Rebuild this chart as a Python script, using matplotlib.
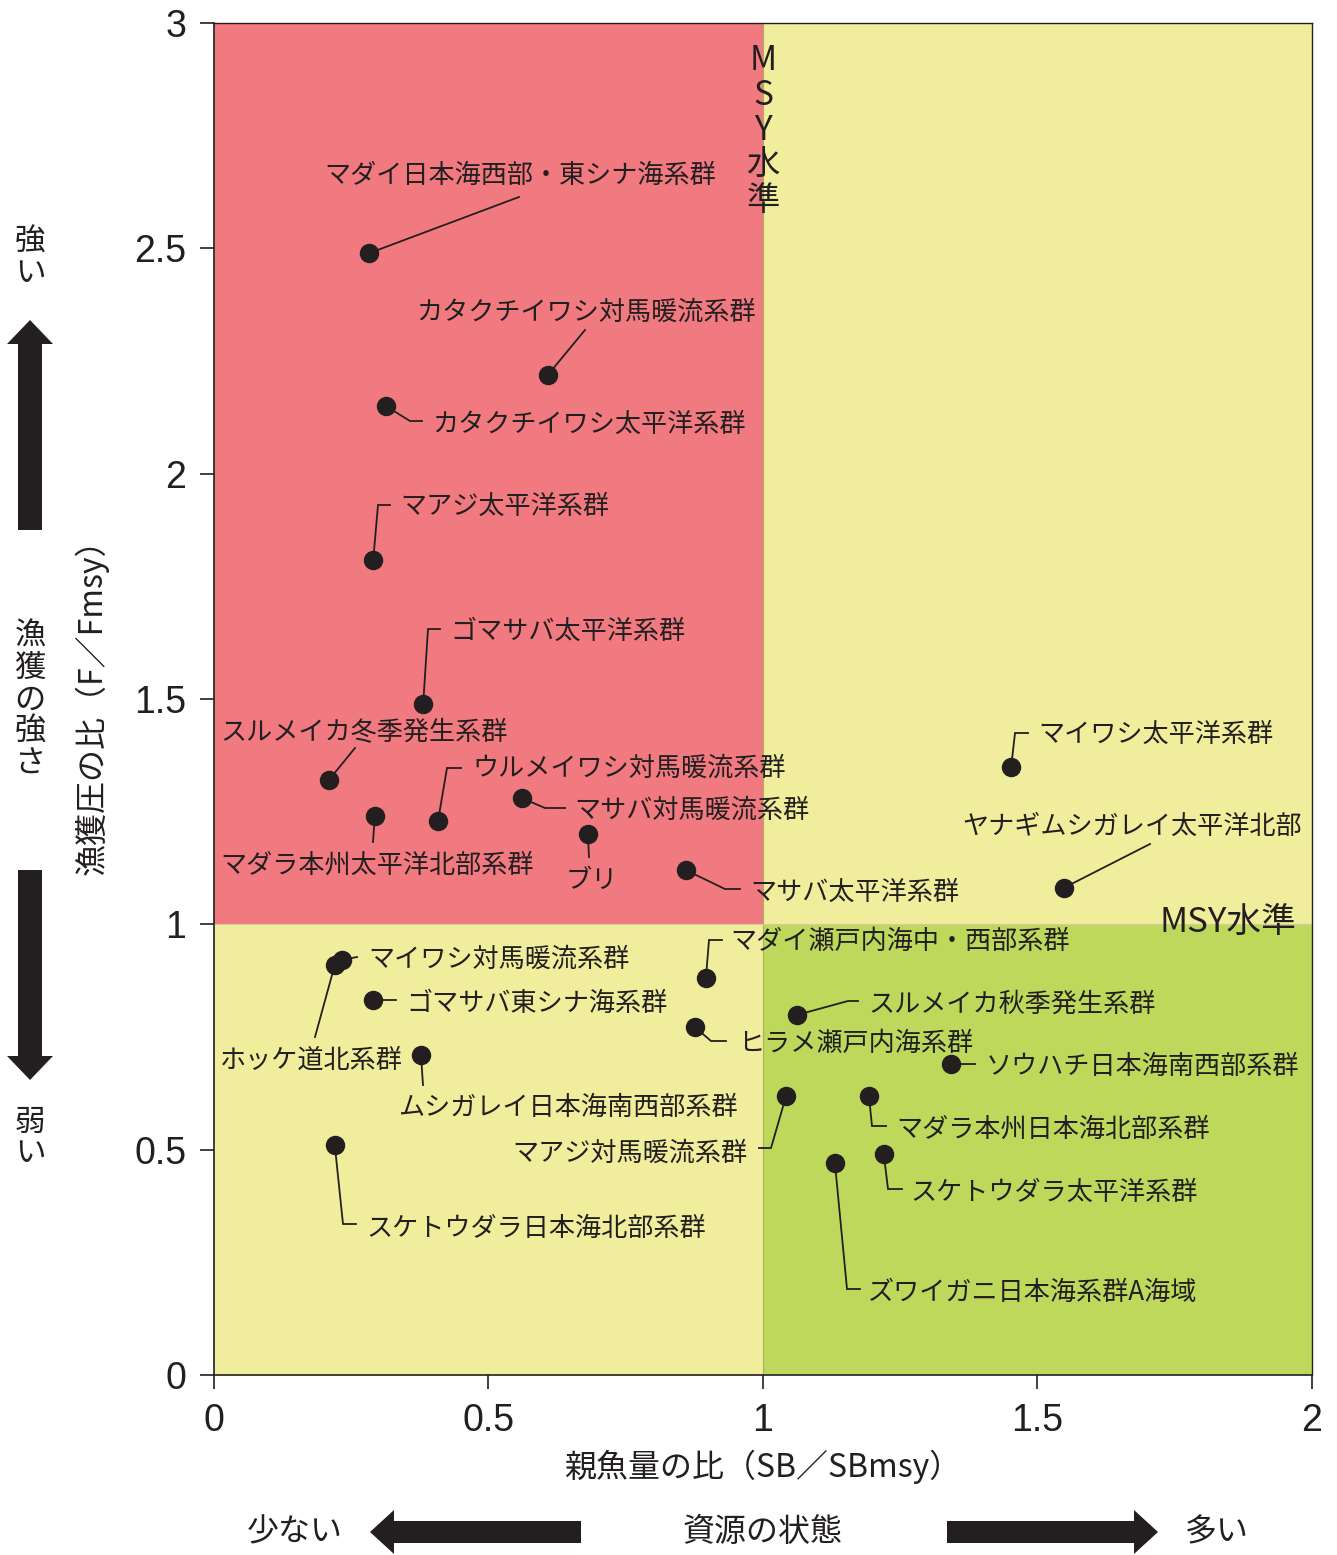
import matplotlib
matplotlib.use("Agg")
import matplotlib.pyplot as plt
from matplotlib.patches import FancyArrow, Rectangle

plt.rcParams['font.family'] = ['Noto Sans CJK JP', 'DejaVu Sans']

# ---------------- data ----------------
stocks = [
    "マダイ日本海西部・東シナ海系群", "カタクチイワシ対馬暖流系群", "カタクチイワシ太平洋系群",
    "マアジ太平洋系群", "ゴマサバ太平洋系群", "スルメイカ冬季発生系群", "マダラ本州太平洋北部系群",
    "ウルメイワシ対馬暖流系群", "マサバ対馬暖流系群", "ブリ", "マサバ太平洋系群",
    "マイワシ太平洋系群", "ヤナギムシガレイ太平洋北部", "マイワシ対馬暖流系群", "ホッケ道北系群",
    "ゴマサバ東シナ海系群", "ムシガレイ日本海南西部系群", "スケトウダラ日本海北部系群",
    "マアジ対馬暖流系群", "マダイ瀬戸内海中・西部系群", "ヒラメ瀬戸内海系群",
    "スルメイカ秋季発生系群", "ソウハチ日本海南西部系群", "マダラ本州日本海北部系群",
    "スケトウダラ太平洋系群", "ズワイガニ日本海系群A海域",
]
sb_ratio = [0.282, 0.608, 0.313, 0.290, 0.381, 0.209, 0.293, 0.408, 0.561, 0.681, 0.860,
            1.452, 1.548, 0.233, 0.220, 0.290, 0.377, 0.220, 1.042, 0.896, 0.876,
            1.062, 1.342, 1.193, 1.220, 1.131]
f_ratio = [2.489, 2.219, 2.150, 1.808, 1.489, 1.320, 1.240, 1.229, 1.280, 1.200, 1.120,
           1.349, 1.081, 0.921, 0.910, 0.832, 0.710, 0.510, 0.619, 0.881, 0.772,
           0.799, 0.690, 0.619, 0.490, 0.470]

x_ticks = [0, 0.5, 1, 1.5, 2]
x_tick_labels = ["0", "0.5", "1", "1.5", "2"]
y_ticks = [0, 0.5, 1, 1.5, 2, 2.5, 3]
y_tick_labels = ["0", "0.5", "1", "1.5", "2", "2.5", "3"]

# ---------------- layout (reference pixel coords) ----------------
# label: (left x, center y) ; leader: list of waypoints after the point
label_pos = [
    (324, 172), (416, 309), (432, 421), (400, 503), (450, 628), (220, 730), (220, 862),
    (472, 765), (574, 807), (566, 877), (750, 889), (1038, 731), (962, 823), (368, 956),
    (220, 1057), (406, 1000), (398, 1104), (366, 1225), (512, 1150), (730, 938),
    (738, 1040), (868, 1001), (986, 1063), (896, 1126), (910, 1189), (868, 1289),
]
leaders = [
    [(519, 197)], [(585, 330)], [(410, 421), (422, 421)], [(378, 505), (390, 505)],
    [(428, 629), (440, 629)], [(355, 748)], [(373, 842)], [(447, 768), (461, 768)],
    [(545, 808), (565, 808)], [(589, 857)], [(725, 889), (740, 889)],
    [(1015, 733), (1028, 733)], [(1150, 844)], [(357, 957)], [(315, 1037)],
    [(396, 1000)], [(423, 1085)], [(343, 1224), (356, 1224)], [(771, 1148), (759, 1148)],
    [(709, 940), (722, 940)], [(711, 1041), (726, 1041)], [(848, 1001), (858, 1001)],
    [(975, 1064)], [(872, 1126), (886, 1126)], [(888, 1189), (902, 1189)],
    [(847, 1289), (860, 1289)],
]

W, H = 1337, 1555
AX_L, AX_R, AX_T, AX_B = 214, 1312, 23, 1375


def px2data(px, py):
    return ((px - AX_L) / (AX_R - AX_L) * 2.0, (AX_B - py) / (AX_B - AX_T) * 3.0)


RED = "#F17A80"
YELLOW = "#F0EE9C"
GREEN = "#BED85C"
INK = "#231F20"
NUM_FONT = ['Liberation Sans Narrow', 'Liberation Sans', 'DejaVu Sans']

fig = plt.figure(figsize=(W / 100, H / 100), dpi=100)
ax = fig.add_axes([AX_L / W, 1 - AX_B / H, (AX_R - AX_L) / W, (AX_B - AX_T) / H])
ax.set_xlim(0, 2)
ax.set_ylim(0, 3)

# background regions
ax.add_patch(Rectangle((0, 1), 1, 2, facecolor=RED, edgecolor="none", zorder=0))
ax.add_patch(Rectangle((1, 1), 1, 2, facecolor=YELLOW, edgecolor="none", zorder=0))
ax.add_patch(Rectangle((0, 0), 1, 1, facecolor=YELLOW, edgecolor="none", zorder=0))
ax.add_patch(Rectangle((1, 0), 1, 1, facecolor=GREEN, edgecolor="none", zorder=0))
ax.axvline(1, color="#A8B060", lw=0.8, zorder=0.5)
ax.axhline(1, color="#D8C8A0", lw=0.8, zorder=0.5)

# leader lines
for (x, y), path in zip(zip(sb_ratio, f_ratio), leaders):
    xs = [x] + [px2data(*p)[0] for p in path]
    ys = [y] + [px2data(*p)[1] for p in path]
    ax.plot(xs, ys, color=INK, lw=1.3, zorder=2, solid_joinstyle="miter")

ax.plot(sb_ratio, f_ratio, "o", color=INK, markersize=13, zorder=3)

for name, (lx, ly) in zip(stocks, label_pos):
    dx, dy = px2data(lx, ly)
    ax.text(dx, dy, name, fontsize=18.8, color=INK, ha="left", va="center_baseline", zorder=4)

# MSY labels
mx, my = px2data(763, 130)
ax.text(mx, my, "M\nS\nY\n水\n準", fontsize=24, color=INK, ha="center", va="center",
        linespacing=1.0, zorder=4)
mx, my = px2data(1296, 922)
ax.text(mx, my, "MSY水準", fontsize=25, color=INK, ha="right", va="center", zorder=4)

ax.set_xticks(x_ticks)
ax.set_xticklabels(x_tick_labels, family=NUM_FONT)
ax.set_yticks(y_ticks)
ax.set_yticklabels(y_tick_labels, family=NUM_FONT)
ax.tick_params(axis="both", direction="out", length=10, width=1.2, colors=INK,
               labelsize=27)
ax.tick_params(axis="x", pad=10)
ax.tick_params(axis="y", pad=10)
for s in ax.spines.values():
    s.set_color(INK)
    s.set_linewidth(1.2)
ax.spines["right"].set_linewidth(1.0)
ax.spines["top"].set_linewidth(1.0)

ax.set_xlabel("親魚量の比（SB／SBmsy）", fontsize=23, color=INK, labelpad=8)
ax.set_ylabel("漁獲圧の比（F／Fmsy）", fontsize=23, color=INK, labelpad=18)

# overlay in pixel coords for side annotations
ov = fig.add_axes([0, 0, 1, 1], facecolor="none")
ov.set_xlim(0, W)
ov.set_ylim(H, 0)
ov.axis("off")

ov.text(30, 258, "強\nい", fontsize=22, color=INK, ha="center", va="center", linespacing=1.0)
ov.text(30, 700, "漁\n獲\nの\n強\nさ", fontsize=22.5, color=INK, ha="center", va="center",
        linespacing=1.0)
ov.text(30, 1138, "弱\nい", fontsize=22, color=INK, ha="center", va="center", linespacing=1.0)

# vertical arrows
ov.add_patch(FancyArrow(30, 530, 0, -210, width=24, head_width=46, head_length=24,
                        length_includes_head=True, color=INK, lw=0))
ov.add_patch(FancyArrow(30, 870, 0, 210, width=24, head_width=46, head_length=24,
                        length_includes_head=True, color=INK, lw=0))
# horizontal arrows
ov.add_patch(FancyArrow(581, 1532, -211, 0, width=22, head_width=44, head_length=24,
                        length_includes_head=True, color=INK, lw=0))
ov.add_patch(FancyArrow(947, 1532, 211, 0, width=22, head_width=44, head_length=24,
                        length_includes_head=True, color=INK, lw=0))

ov.text(295, 1532, "少ない", fontsize=23, color=INK, ha="center", va="center")
ov.text(763, 1532, "資源の状態", fontsize=23, color=INK, ha="center", va="center")
ov.text(1217, 1532, "多い", fontsize=23, color=INK, ha="center", va="center")

fig.savefig("out.png", dpi=100)
